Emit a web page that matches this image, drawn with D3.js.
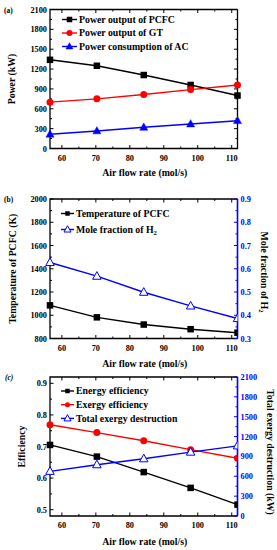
<!DOCTYPE html>
<html>
<head>
<meta charset="utf-8">
<script src="https://cdn.jsdelivr.net/npm/d3@7.9.0/dist/d3.min.js"></script>
<style>
  body { margin: 0; background: #fff; }
  svg { display: block; font-family: "Liberation Serif", "Times New Roman", serif; font-weight: bold; }
</style>
</head>
<body>
<svg id="chart" width="277" height="550"></svg>
<script>
// data
const airFlow = [56.5, 70.3, 84.1, 97.9, 111.7];

const pcfcPower = [1340, 1250, 1110, 960, 800];
const gtPower = [700, 750, 815, 890, 960];
const acPower = [215, 265, 320, 370, 420];

const pcfcTemp = [1085, 982, 920, 880, 850];
const h2Fraction = [0.627, 0.568, 0.499, 0.440, 0.386];

const energyEff = [0.705, 0.668, 0.619, 0.569, 0.516];
const exergyEff = [0.769, 0.744, 0.718, 0.690, 0.663];
const exergyDestr = [675, 775, 865, 965, 1060];

const xTicks = [60, 70, 80, 90, 100, 110];
const powerTicks = [0, 300, 600, 900, 1200, 1500, 1800, 2100];
const tempTicks = [800, 1000, 1200, 1400, 1600, 1800, 2000];
const fracTicks = [0.3, 0.4, 0.5, 0.6, 0.7, 0.8, 0.9];
const effTicks = [0.5, 0.6, 0.7, 0.8, 0.9];
const destrTicks = [0, 300, 600, 900, 1200, 1500, 1800, 2100];

const svg = d3.select('#chart');
const L = 50, R = 237.5;
const x = d3.scaleLinear().domain([airFlow[0], airFlow[airFlow.length - 1]]).range([L, R]);
const BLUE = '#0000ff', RED = '#ff0000';

// markers
function marker(g, type, cx, cy, size, color, hollow) {
    if (type === 'square') {
        g.append('rect').attr('x', cx - size / 2).attr('y', cy - size / 2)
            .attr('width', size).attr('height', size).attr('fill', color);
    } else if (type === 'circle') {
        g.append('circle').attr('cx', cx).attr('cy', cy).attr('r', size / 2).attr('fill', color);
    } else {
        const h = size * 0.9;
        g.append('path')
            .attr('d', `M${cx},${cy - h * 0.6}L${cx + size / 2},${cy + h * 0.4}L${cx - size / 2},${cy + h * 0.4}Z`)
            .attr('fill', hollow ? '#fff' : color)
            .attr('stroke', color).attr('stroke-width', hollow ? 1 : 0.5);
    }
}

function drawPanel(p) {
    const g = svg.append('g');
    const top = p.top, bottom = p.bottom;
    const yL = d3.scaleLinear().domain(p.yDomain).range([bottom, top]);

    const clipId = 'clip-' + p.id;
    g.append('clipPath').attr('id', clipId).append('rect')
        .attr('x', L - 10).attr('y', top - 10)
        .attr('width', R - L + (p.clipRight ? 10 : 20)).attr('height', bottom - top + 20);

    // ticks (inside, mirrored)
    const xMinor = d3.range(55, 115, 5).filter(v => v >= x.domain()[0] && v <= x.domain()[1]);
    xMinor.forEach(v => {
        const len = v % 10 === 0 ? 3.5 : 2;
        g.append('line').attr('x1', x(v)).attr('x2', x(v)).attr('y1', bottom).attr('y2', bottom - len)
            .attr('stroke', '#000').attr('stroke-width', 1);
        g.append('line').attr('x1', x(v)).attr('x2', x(v)).attr('y1', top).attr('y2', top + len)
            .attr('stroke', '#000').attr('stroke-width', 1);
    });
    const lStep = p.yTicks[1] - p.yTicks[0];
    const lMinor = [];
    p.yTicks.forEach(v => { lMinor.push(v); lMinor.push(v + lStep / 2); });
    lMinor.forEach((v, i) => {
        if (yL(v) < top - 0.5 || yL(v) > bottom + 0.5) return;
        const len = i % 2 === 0 ? 3.5 : 2;
        g.append('line').attr('x1', L).attr('x2', L + len).attr('y1', yL(v)).attr('y2', yL(v))
            .attr('stroke', '#000').attr('stroke-width', 1);
        if (!p.yRight) {
            g.append('line').attr('x1', R).attr('x2', R - len).attr('y1', yL(v)).attr('y2', yL(v))
                .attr('stroke', '#000').attr('stroke-width', 1);
        }
    });

    // left tick labels
    g.selectAll('.yl').data(p.yTicks).join('text')
        .attr('x', L - 3).attr('y', d => yL(d) + 3)
        .attr('text-anchor', 'end').attr('font-size', 8.3)
        .text(p.yFormat);

    // x tick labels
    g.selectAll('.xl').data(xTicks).join('text')
        .attr('x', d => x(d)).attr('y', bottom + 12)
        .attr('text-anchor', 'middle').attr('font-size', 8.3)
        .text(d => d);

    // frame
    g.append('path')
        .attr('d', `M${R},${top}L${L},${top}L${L},${bottom}L${R},${bottom}` + (p.yRight ? '' : `L${R},${top}`))
        .attr('fill', 'none').attr('stroke', '#000').attr('stroke-width', 1.3);

    let yR = null;
    if (p.yRight) {
        yR = d3.scaleLinear().domain(p.yRight.domain).range([bottom, top]);
        const rStep = p.yRight.ticks[1] - p.yRight.ticks[0];
        const rMinor = [];
        p.yRight.ticks.forEach(v => { rMinor.push(v); rMinor.push(v + rStep / 2); });
        rMinor.forEach((v, i) => {
            if (yR(v) < top - 0.5 || yR(v) > bottom + 0.5) return;
            const len = i % 2 === 0 ? 3.5 : 2;
            g.append('line').attr('x1', R).attr('x2', R - len).attr('y1', yR(v)).attr('y2', yR(v))
                .attr('stroke', BLUE).attr('stroke-width', 1);
        });
        g.append('line').attr('x1', R).attr('x2', R).attr('y1', top).attr('y2', bottom)
            .attr('stroke', BLUE).attr('stroke-width', 1.6);
        g.selectAll('.yr').data(p.yRight.ticks).join('text')
            .attr('x', R + 3).attr('y', d => yR(d) + 3)
            .attr('font-size', 8.3).attr('fill', BLUE)
            .text(p.yRight.format);
        const rl = g.append('text')
            .attr('transform', `translate(${p.yRight.labelX},${p.yRight.labelY}) rotate(90)`)
            .attr('text-anchor', 'middle').attr('font-size', 9.8);
        p.yRight.label(rl);
    }

    // series
    const plot = g.append('g').attr('clip-path', `url(#${clipId})`);
    p.series.forEach(s => {
        const ys = s.right ? yR : yL;
        const line = d3.line().x((d, i) => x(airFlow[i])).y(d => ys(d));
        plot.append('path').datum(s.values).attr('d', line)
            .attr('fill', 'none').attr('stroke', s.color).attr('stroke-width', 1.4);
        s.values.forEach((v, i) => marker(plot, s.shape, x(airFlow[i]), ys(v), s.size, s.color, s.hollow));
    });

    // legend
    p.series.forEach((s, i) => {
        const ly = p.legend.y + i * p.legend.dy;
        const lx = p.legend.x;
        g.append('line').attr('x1', lx).attr('x2', lx + p.legend.len).attr('y1', ly).attr('y2', ly)
            .attr('stroke', s.color).attr('stroke-width', 1.4);
        marker(g, s.shape, lx + p.legend.len / 2, ly, s.legendSize, s.color, s.hollow);
        const t = g.append('text').attr('x', lx + p.legend.len + 2).attr('y', ly + 3.3)
            .attr('font-size', 9.8);
        s.label(t);
    });

    // axis titles
    g.append('text').attr('x', (L + R) / 2 + 1).attr('y', p.xLabelY)
        .attr('text-anchor', 'middle').attr('font-size', 9.8).text('Air flow rate (mol/s)');
    const yl = g.append('text')
        .attr('transform', `translate(${p.yLabelX},${(top + bottom) / 2}) rotate(-90)`)
        .attr('text-anchor', 'middle').attr('font-size', 9.8);
    p.yLabel(yl);

    g.append('text').attr('x', p.tagX).attr('y', top + 3).attr('font-size', 7.5)
        .attr('font-style', p.tagItalic ? 'italic' : 'normal').text(p.tag);
}

const plain = s => t => t.text(s);
const h2Label = pre => t => {
    t.append('tspan').text(pre + 'H');
    t.append('tspan').attr('font-size', 6.5).attr('dy', 2.5).text('2');
};

drawPanel({
    id: 'a', top: 9.5, bottom: 148.5, yDomain: [0, 2100], yTicks: powerTicks, yFormat: d => d,
    xLabelY: 176, yLabelX: 15, yLabel: plain('Power (kW)'), tag: '(a)', tagX: 4,
    legend: { x: 62, y: 19.5, dy: 13.5, len: 15 },
    series: [
        { values: pcfcPower, color: '#000', shape: 'square', size: 6.5, legendSize: 5.5, label: plain('Power output of PCFC') },
        { values: gtPower, color: RED, shape: 'circle', size: 7, legendSize: 6, label: plain('Power output of GT') },
        { values: acPower, color: BLUE, shape: 'triangle', size: 8, legendSize: 7, label: plain('Power consumption of AC') }
    ]
});

drawPanel({
    id: 'b', top: 199, bottom: 338.5, yDomain: [800, 2000], yTicks: tempTicks, yFormat: d => d,
    xLabelY: 367, yLabelX: 16, yLabel: plain('Temperature of PCFC (K)'), tag: '(b)', tagX: 4, clipRight: true,
    yRight: { domain: [0.3, 0.9], ticks: fracTicks, format: d3.format('.1f'), labelX: 261, labelY: 272,
              label: h2Label('Mole fraction of ') },
    legend: { x: 61, y: 213.5, dy: 16, len: 13 },
    series: [
        { values: pcfcTemp, color: '#000', shape: 'square', size: 6.5, legendSize: 4.5, label: plain('Temperature of PCFC') },
        { values: h2Fraction, color: BLUE, shape: 'triangle', size: 8.5, legendSize: 7, hollow: true, right: true, label: h2Label('Mole fraction of ') }
    ]
});

drawPanel({
    id: 'c', top: 377, bottom: 516, yDomain: [0.48, 0.92], yTicks: effTicks, yFormat: d3.format('.1f'),
    xLabelY: 545, yLabelX: 25, yLabel: plain('Efficiency'), tag: '(c)', tagX: 5, tagItalic: true, clipRight: true,
    yRight: { domain: [0, 2100], ticks: destrTicks, format: d => d, labelX: 267, labelY: 452,
              label: plain('Total exergy destruction (kW)') },
    legend: { x: 61, y: 391, dy: 13.7, len: 13 },
    series: [
        { values: energyEff, color: '#000', shape: 'square', size: 6.5, legendSize: 4.5, label: plain('Energy efficiency') },
        { values: exergyEff, color: RED, shape: 'circle', size: 7, legendSize: 5, label: plain('Exergy efficiency') },
        { values: exergyDestr, color: BLUE, shape: 'triangle', size: 8.5, legendSize: 7, hollow: true, right: true, label: plain('Total exergy destruction') }
    ]
});
</script>
</body>
</html>
